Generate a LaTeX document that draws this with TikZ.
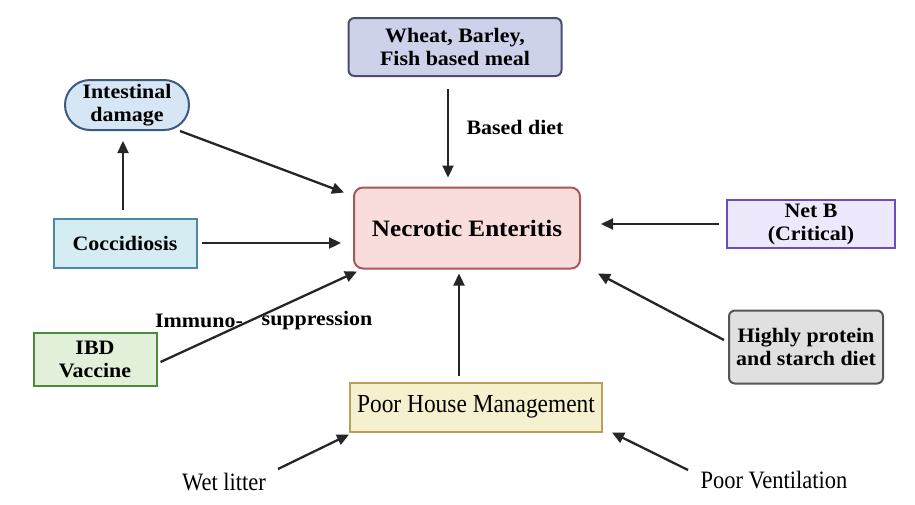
\documentclass[tikz,border=0pt]{standalone}
\usepackage{fontspec}
\setmainfont{Liberation Serif}
\newfontfamily\widefont[FakeStretch=1.07]{Liberation Serif}
\newfontfamily\narrowfont[FakeStretch=0.9]{Liberation Serif}
\usepackage{xcolor}
\usepackage{tikz}
\usetikzlibrary{positioning, arrows.meta, shapes.misc}

\definecolor{wheatfill}{RGB}{205,209,234}
\definecolor{wheatdraw}{RGB}{74,78,110}
\definecolor{intfill}{RGB}{214,230,245}
\definecolor{intdraw}{RGB}{58,90,128}
\definecolor{coccfill}{RGB}{213,236,243}
\definecolor{coccdraw}{RGB}{74,138,168}
\definecolor{nefill}{RGB}{249,220,220}
\definecolor{nedraw}{RGB}{168,88,88}
\definecolor{netbfill}{RGB}{237,232,252}
\definecolor{netbdraw}{RGB}{106,76,192}
\definecolor{highfill}{RGB}{224,224,224}
\definecolor{highdraw}{RGB}{85,85,85}
\definecolor{ibdfill}{RGB}{226,240,217}
\definecolor{ibddraw}{RGB}{78,138,60}
\definecolor{phmfill}{RGB}{245,241,206}
\definecolor{phmdraw}{RGB}{184,160,96}

\begin{document}
\begin{tikzpicture}[x=1pt, y=-1pt,
	lab/.style={font=\widefont\bfseries\fontsize{20.5}{23}\selectfont, align=center},
	plainlab/.style={font=\narrowfont\fontsize{25}{27}\selectfont, align=center},
	box/.style={draw, line width=2pt, inner sep=2pt},
	arr/.style={-{Triangle[length=12pt,width=11pt]}, line width=2.3pt, black!85}]
	\useasboundingbox[fill=white] (0,0) rectangle (915,504);

	% factors round the disease
	\node (ne)[box, lab, rounded corners=9pt, fill=nefill, draw=nedraw, minimum width=226pt, minimum height=81pt, font=\widefont\bfseries\fontsize{23.5}{24}\selectfont] at (467,228) {Necrotic Enteritis};
	\node (wheat)[box, lab, rounded corners=6pt, fill=wheatfill, draw=wheatdraw, minimum width=213pt, minimum height=58pt] at (455,47) {Wheat, Barley,\\Fish based meal};
	\node (int)[box, lab, rounded rectangle, fill=intfill, draw=intdraw, minimum width=128pt, minimum height=50pt] at (127,105) {Intestinal\\damage};
	\node (cocc)[box, lab, fill=coccfill, draw=coccdraw, minimum width=143pt, minimum height=49pt] at (125,243) {Coccidiosis};
	\node (netb)[box, lab, fill=netbfill, draw=netbdraw, minimum width=168pt, minimum height=48pt] at (811,224) {Net B\\(Critical)};
	\node (high)[box, lab, rounded corners=6pt, fill=highfill, draw=highdraw, minimum width=154pt, minimum height=73pt] at (806,347) {Highly protein\\and starch diet};
	\node (ibd)[box, lab, fill=ibdfill, draw=ibddraw, minimum width=123pt, minimum height=53pt] at (95,359) {IBD\\Vaccine};
	\node (phm)[box, plainlab, fill=phmfill, draw=phmdraw, minimum width=252pt, minimum height=49pt, inner sep=0pt, font=\narrowfont\fontsize{26}{27}\selectfont] at (476,407) {Poor House Management};

	% loose labels
	\node (based)[lab] at (515,127) {Based diet};
	\node (immuno)[lab] at (199,321) {Immuno-};
	\node (supp)[lab] at (317,321) {suppression};
	\node (wet)[plainlab] at (224,482) {Wet litter};
	\node (vent)[plainlab] at (774,480) {Poor Ventilation};

	\draw[arr] ([xshift=-7pt,yshift=-12pt]wheat.south) -- ([xshift=-19pt,yshift=9pt]ne.north);
	\draw[arr] ([xshift=16pt]int.south east) -- ([xshift=-9pt,yshift=-6pt]ne.north west);
	\draw[arr] ([xshift=-2pt,yshift=8pt]cocc.north) -- ([xshift=-4pt,yshift=-10pt]int.south);
	\draw[arr, shorten <=4pt, shorten >=12pt] (cocc.east) -- (cocc.east -| ne.west);
	\draw[arr, shorten <=7pt, shorten >=20pt] (netb.west) -- (netb.west -| ne.east);
	\draw[arr] ([xshift=-4pt,yshift=7pt]high.west) -- ([xshift=17pt,yshift=-4pt]ne.south east);
	\draw[arr] ([xshift=3pt,yshift=-3pt]ibd.east) -- ([xshift=4pt,yshift=-2pt]ne.south west);
	\draw[arr] ([xshift=-17pt,yshift=6pt]phm.north) -- ([xshift=-8pt,yshift=-4pt]ne.south);
	\draw[arr] ([xshift=54pt,yshift=13pt]wet.center) -- ([yshift=-2pt]phm.south west);
	\draw[arr] ([xshift=-86pt,yshift=10pt]vent.center) -- ([xshift=9pt]phm.south east);
\end{tikzpicture}
\end{document}
